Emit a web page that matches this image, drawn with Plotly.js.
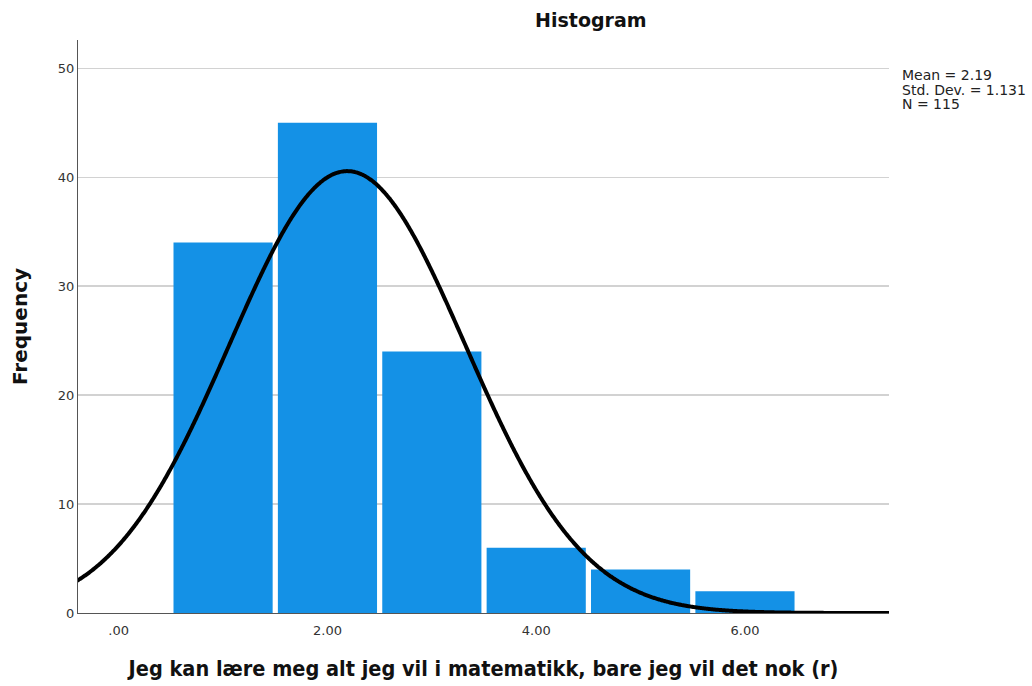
<!DOCTYPE html>
<html>
<head>
<meta charset="utf-8">
<script src="https://cdn.plot.ly/plotly-3.0.1.min.js"></script>
<style>html,body{margin:0;padding:0;background:#fff;}#chart{width:1032px;height:686px;}</style>
</head>
<body>
<div id="chart"></div>
<script>
// Histogram bins (centres) and frequencies
const binCenters = [1, 2, 3, 4, 5, 6];
const frequencies = [34, 45, 24, 6, 4, 2];
// Summary statistics shown in the chart
const mean = 2.19;
const stdDev = 1.131;
const n = 115;
const binWidth = 1;
// Tick labels
const xTickVals = [0, 2, 4, 6];
const xTickText = ['.00', '2.00', '4.00', '6.00'];
const yTickVals = [0, 10, 20, 30, 40, 50];
const statLines = ['Mean = ' + mean.toFixed(2), 'Std. Dev. = ' + stdDev.toFixed(3), 'N = ' + n];

// Normal curve implied by the displayed Mean / Std. Dev. / N
const curveX = [];
const curveY = [];
for (let i = 0; i <= 600; i++) {
  const x = -0.4 + i * (7.8 / 600);
  const z = (x - mean) / stdDev;
  curveX.push(x);
  curveY.push(n * binWidth / (stdDev * Math.sqrt(2 * Math.PI)) * Math.exp(-0.5 * z * z));
}

const data = [
  {
    type: 'bar', x: binCenters, y: frequencies, width: 0.95,
    marker: {color: 'rgb(20,145,230)', line: {width: 0}},
    hoverinfo: 'x+y'
  },
  {
    type: 'scatter', mode: 'lines', x: curveX, y: curveY,
    line: {color: '#000', width: 4, simplify: false, shape: 'spline', smoothing: 0.6}, hoverinfo: 'skip'
  }
];

const statY = [0.9389, 0.9136, 0.8883];
const annotations = statLines.map((t, i) => ({
  xref: 'paper', yref: 'paper', x: 1.0135, y: statY[i], xanchor: 'left', yanchor: 'middle',
  align: 'left', showarrow: false, text: t,
  font: {family: 'DejaVu Sans', size: 14, color: '#222'}
}));

const layout = {
  width: 1032, height: 686,
  margin: {l: 78, r: 143, t: 40, b: 73},
  paper_bgcolor: '#fff', plot_bgcolor: '#fff',
  showlegend: false,
  title: {text: '<b>Histogram</b>', x: 0.5725, xanchor: 'center', y: 0.97, yanchor: 'middle',
          font: {family: 'DejaVu Sans', size: 19, color: '#111'}},
  xaxis: {
    range: [-0.39, 7.38], tickvals: xTickVals, ticktext: xTickText,
    showgrid: false, zeroline: false, showline: true, linecolor: '#555', linewidth: 1,
    ticks: '', ticklabelstandoff: 5, tickfont: {family: 'DejaVu Sans', size: 13, color: '#333'},
    title: {text: '<b>Jeg kan lære meg alt jeg vil i matematikk, bare jeg vil det nok (r)</b>',
            font: {family: 'DejaVu Sans Condensed', size: 21.5, color: '#111'}, standoff: 24}
  },
  yaxis: {
    range: [0, 52.6], tickvals: yTickVals,
    showgrid: true, gridcolor: '#d2d2d2', gridwidth: 1.5, zeroline: false,
    showline: true, linecolor: '#555', linewidth: 1,
    ticks: '', tickfont: {family: 'DejaVu Sans', size: 13, color: '#333'},
    title: {text: '<b>Frequency</b>', font: {family: 'DejaVu Sans', size: 20, color: '#111'}, standoff: 24}
  },
  annotations: annotations
};

Plotly.newPlot('chart', data, layout, {displayModeBar: false, staticPlot: true});
</script>
</body>
</html>
